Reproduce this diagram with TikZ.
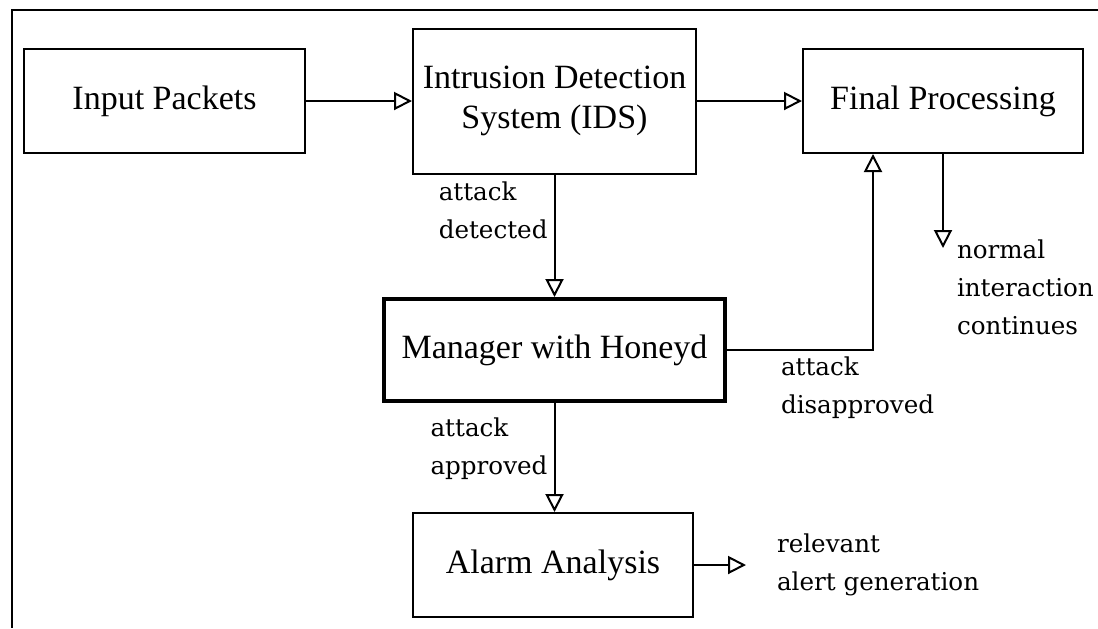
\documentclass[tikz,border=0pt]{standalone}
\usepackage{fontspec}
\setmainfont{Liberation Serif}
\newfontfamily\labelfont{DejaVu Serif}
\usetikzlibrary{arrows.meta,positioning}

\begin{document}
\begin{tikzpicture}[x=0.5pt,y=-0.5pt,line width=1pt,>={Triangle[open,length=9pt,width=9pt]},
    box/.style={draw,minimum height=52pt,align=center,font=\fontsize{17}{20}\selectfont},
    lbl/.style={inner sep=0pt,align=left,font=\labelfont\fontsize{12.3}{19}\selectfont}]
  \useasboundingbox (0,0) rectangle (1098,628);
  \draw (1098,10) -- (12,10) -- (12,628);
  % boxes
  \node[box,minimum width=140.5pt] (inp) at (164.5,101) {Input Packets};
  \node[box,minimum width=141.5pt,minimum height=72.5pt] (ids) at (554.5,101) {Intrusion Detection\\System (IDS)};
  \node[box,minimum width=140pt] (fin) at (943,101) {Final Processing};
  \node[box,line width=2.2pt,minimum width=170.3pt,minimum height=50.8pt] (mgr) at (554.5,350) {Manager with Honeyd};
  \node[box,minimum width=140pt] (alarm) at (553,565) {Alarm Analysis};
  \coordinate[below=47pt of fin.south] (normtip);
  \coordinate[right=26pt of alarm.east] (alerttip);
  % connectors
  \draw[->] (inp) -- (ids);
  \draw[->] (ids) -- (fin);
  \draw[->] (ids.south) -- (mgr.north) node[pos=0,below left=3pt and 3pt,lbl]{attack\\detected};
  \draw[->] (mgr.east) -| ([xshift=-35pt]fin.south) node[pos=0,below right=3pt and 26.5pt,lbl]{attack\\disapproved};
  \draw[->] (fin.south) -- (normtip) node[pos=1,anchor=north west,xshift=6.5pt,yshift=4.5pt,lbl]{normal\\interaction\\continues};
  \draw[->] (mgr.south) -- (mgr.south |- alarm.north) node[pos=0,below left=7pt and 3pt,lbl]{attack\\approved};
  \draw[->] (alarm.east) -- (alerttip) node[right=15pt,lbl]{relevant\\alert generation};
\end{tikzpicture}
\end{document}
